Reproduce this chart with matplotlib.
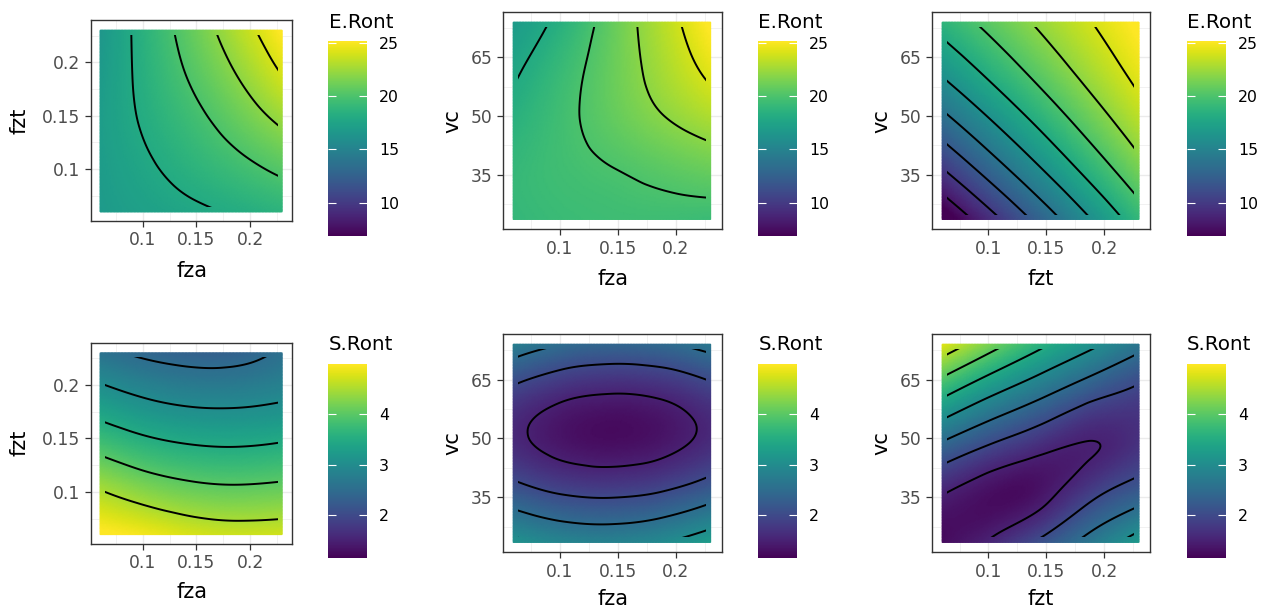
import numpy as np
import matplotlib
matplotlib.use("Agg")
import matplotlib.pyplot as plt
import matplotlib.tri as mtri
from matplotlib.colors import Normalize
from matplotlib.patches import Rectangle
import matplotlib.cm as cm

plt.rcParams['font.family'] = ['DejaVu Sans']

# ---------------- data ----------------
fza_nodes = [0.06, 0.1025, 0.145, 0.1875, 0.23]
fzt_nodes = [0.06, 0.1025, 0.145, 0.1875, 0.23]
vc_nodes = [23.5, 36.125, 48.75, 61.375, 74.0]

# rows: y-axis nodes (bottom -> top), columns: x-axis nodes (left -> right)
e_ront_fza_fzt = [
    [16.80, 17.25, 17.70, 18.15, 18.65],
    [16.90, 17.77, 18.64, 19.51, 20.45],
    [16.98, 18.21, 19.43, 20.80, 22.30],
    [16.81, 18.49, 20.19, 21.99, 24.00],
    [16.55, 18.67, 20.82, 23.04, 25.30],
]
e_ront_fza_vc = [
    [19.00, 19.30, 19.45, 19.45, 19.30],
    [19.05, 19.55, 19.95, 20.46, 20.96],
    [18.51, 19.61, 20.72, 21.82, 22.79],
    [17.76, 19.30, 20.94, 22.66, 24.37],
    [16.80, 18.53, 20.81, 23.11, 25.40],
]
e_ront_fzt_vc = [
    [5.90, 9.33, 12.67, 15.89, 18.98],
    [9.84, 12.90, 15.84, 18.65, 21.34],
    [13.31, 15.97, 18.50, 20.91, 23.19],
    [16.29, 18.54, 20.67, 22.67, 24.55],
    [18.76, 20.61, 22.33, 23.93, 25.40],
]
s_ront_fza_fzt = [
    [5.05, 4.93, 4.77, 4.70, 4.72],
    [4.49, 4.26, 4.11, 4.06, 4.10],
    [3.83, 3.61, 3.49, 3.46, 3.52],
    [3.20, 3.00, 2.89, 2.88, 2.96],
    [2.60, 2.42, 2.33, 2.35, 2.56],
]
s_ront_fza_vc = [
    [3.11, 2.90, 2.85, 2.98, 3.27],
    [2.21, 1.97, 1.91, 2.02, 2.30],
    [1.61, 1.36, 1.28, 1.37, 1.63],
    [1.87, 1.60, 1.50, 1.57, 1.82],
    [2.80, 2.50, 2.40, 2.46, 2.68],
]
s_ront_fzt_vc = [
    [1.25, 1.56, 2.10, 2.67, 3.23],
    [1.53, 1.28, 1.35, 1.85, 2.26],
    [2.46, 2.01, 1.67, 1.49, 1.70],
    [3.60, 3.05, 2.60, 2.16, 1.88],
    [4.82, 4.19, 3.60, 3.12, 2.65],
]

e_levels = [8, 10, 12, 14, 16, 18, 20, 22, 24]
s_levels = [1.5, 2.0, 2.5, 3.0, 3.5, 4.0, 4.5]
e_limits = (6.9, 25.15)
s_limits = (1.14, 4.99)
e_ticks = [10, 15, 20, 25]
s_ticks = [2, 3, 4]

fz_ticks = [0.1, 0.15, 0.2]
fz_ticklabels = ["0.1", "0.15", "0.2"]
fz_minor = [0.075, 0.125, 0.175, 0.225]
vc_ticks = [35, 50, 65]
vc_ticklabels = ["35", "50", "65"]
vc_minor = [27.5, 42.5, 57.5, 72.5]

fz_lim = (0.0515, 0.2395)
vc_lim = (20.98, 76.52)
raster_cells = 20   # raster resolution of the source surface (contours end at cell centres)

# ---------------- figure ----------------
W, H = 1280, 612
fig = plt.figure(figsize=(W / 100, H / 100), dpi=100)


def rect(x0, y0, x1, y1):
    return [x0 / W, 1 - y1 / H, (x1 - x0) / W, (y1 - y0) / H]


GRID = '#EBEBEB'
DARK = '#333333'
TICKC = '#4D4D4D'

panels = [
    dict(xn=fza_nodes, yn=fzt_nodes, z=e_ront_fza_fzt, xl='fza', yl='fzt', yvc=False,
         lim=e_limits, lev=e_levels, ct=e_ticks, title='E.Ront',
         ax=(91, 20, 292.3, 221), cb=(327.5, 41.2, 367, 235.7), tpos=(329, 27.7), xb=276.7, yx=19.5),
    dict(xn=fza_nodes, yn=vc_nodes, z=e_ront_fza_vc, xl='fza', yl='vc', yvc=True,
         lim=e_limits, lev=e_levels, ct=e_ticks, title='E.Ront',
         ax=(503.3, 12.3, 721.7, 229.3), cb=(757.5, 41.2, 797, 235.7), tpos=(758.3, 27.7), xb=285, yx=452),
    dict(xn=fzt_nodes, yn=vc_nodes, z=e_ront_fzt_vc, xl='fzt', yl='vc', yvc=True,
         lim=e_limits, lev=e_levels, ct=e_ticks, title='E.Ront',
         ax=(932.3, 12.3, 1150, 229.3), cb=(1186.5, 41.2, 1226, 235.7), tpos=(1187, 27.7), xb=285, yx=881),
    dict(xn=fza_nodes, yn=fzt_nodes, z=s_ront_fza_fzt, xl='fza', yl='fzt', yvc=False,
         lim=s_limits, lev=s_levels, ct=s_ticks, title='S.Ront',
         ax=(91, 342.7, 292.3, 543.7), cb=(327.5, 364.3, 367, 558.3), tpos=(329, 350), xb=598.5, yx=19.5),
    dict(xn=fza_nodes, yn=vc_nodes, z=s_ront_fza_vc, xl='fza', yl='vc', yvc=True,
         lim=s_limits, lev=s_levels, ct=s_ticks, title='S.Ront',
         ax=(503.3, 334.3, 721.7, 552.3), cb=(757.5, 364.3, 797, 558.3), tpos=(758.3, 350), xb=605, yx=452),
    dict(xn=fzt_nodes, yn=vc_nodes, z=s_ront_fzt_vc, xl='fzt', yl='vc', yvc=True,
         lim=s_limits, lev=s_levels, ct=s_ticks, title='S.Ront',
         ax=(932.3, 334.3, 1150, 552.3), cb=(1186.5, 364.3, 1226, 558.3), tpos=(1187, 350), xb=605, yx=881),
]


def grid_triangles(nx, ny):
    tris = []
    for j in range(ny - 1):
        for i in range(nx - 1):
            a = j * nx + i
            b = a + 1
            c = a + nx
            d = c + 1
            tris.append([a, b, d])
            tris.append([a, d, c])
    return np.array(tris)


for p in panels:
    xn = np.asarray(p['xn'], float)
    yn = np.asarray(p['yn'], float)
    Z = np.asarray(p['z'], float)
    X, Y = np.meshgrid(xn, yn)
    xs = (X - xn.min()) / (xn.max() - xn.min())
    ys = (Y - yn.min()) / (yn.max() - yn.min())
    tri = mtri.Triangulation(xs.ravel(), ys.ravel(), grid_triangles(len(xn), len(yn)))
    refiner = mtri.UniformTriRefiner(tri)
    tri_r, z_r = refiner.refine_field(Z.ravel(), subdiv=5)
    tri_d = mtri.Triangulation(xn.min() + tri_r.x * (xn.max() - xn.min()),
                               yn.min() + tri_r.y * (yn.max() - yn.min()),
                               tri_r.triangles)

    norm = Normalize(vmin=p['lim'][0], vmax=p['lim'][1])
    ax = fig.add_axes(rect(*p['ax']))
    ax.set_axisbelow(True)
    ax.tripcolor(tri_d, z_r, shading='gouraud', cmap='viridis', norm=norm, zorder=1)
    cs = ax.tricontour(tri_d, z_r, levels=p['lev'], colors='black', linewidths=1.4, zorder=2)
    dx = (xn.max() - xn.min()) / (2 * raster_cells)
    dy = (yn.max() - yn.min()) / (2 * raster_cells)
    clip = Rectangle((xn.min() + dx, yn.min() + dy), xn.max() - xn.min() - 2 * dx,
                     yn.max() - yn.min() - 2 * dy, transform=ax.transData)
    cs.set_clip_path(clip)

    ax.set_xlim(*fz_lim)
    ax.set_xticks(fz_ticks)
    ax.set_xticklabels(fz_ticklabels)
    ax.set_xticks(fz_minor, minor=True)
    if p['yvc']:
        ax.set_ylim(*vc_lim)
        ax.set_yticks(vc_ticks)
        ax.set_yticklabels(vc_ticklabels)
        ax.set_yticks(vc_minor, minor=True)
    else:
        ax.set_ylim(*fz_lim)
        ax.set_yticks(fz_ticks)
        ax.set_yticklabels(fz_ticklabels)
        ax.set_yticks(fz_minor, minor=True)
    ax.grid(which='major', color=GRID, linewidth=1.0)
    ax.grid(which='minor', color=GRID, linewidth=0.5)
    ax.tick_params(which='minor', length=0)
    ax.tick_params(axis='x', which='major', direction='out', length=4.3, width=0.9, color=DARK,
                   labelsize=12.3, labelcolor=TICKC, pad=3.2)
    ax.tick_params(axis='y', which='major', direction='out', length=4.3, width=0.9, color=DARK,
                   labelsize=12.3, labelcolor=TICKC, pad=3.4)
    for s in ax.spines.values():
        s.set_color(DARK)
        s.set_linewidth(1.0)

    # axis titles
    x0, y0, x1, y1 = p['ax']
    fig.text(((x0 + x1) / 2) / W, 1 - p['xb'] / H, p['xl'], ha='center', va='baseline',
             fontsize=15, color='black')
    fig.text(p['yx'] / W, 1 - ((y0 + y1) / 2) / H, p['yl'], ha='center', va='center',
             rotation=90, fontsize=15, color='black')

    # colour bar legend
    cax = fig.add_axes(rect(*p['cb']))
    sm = cm.ScalarMappable(norm=norm, cmap='viridis')
    cbar = fig.colorbar(sm, cax=cax, ticks=p['ct'])
    cbar.outline.set_visible(False)
    cbar.ax.minorticks_off()
    cax.yaxis.set_ticks_position('both')
    cax.tick_params(axis='y', direction='in', color='white', length=5.5, width=0.8,
                    left=True, right=True, labelleft=False, labelright=True,
                    labelsize=11.3, labelcolor='black', pad=8.8)
    cax.set_yticklabels([str(t) for t in p['ct']])
    fig.text(p['tpos'][0] / W, 1 - p['tpos'][1] / H, p['title'], ha='left', va='baseline',
             fontsize=14.3, color='black')

fig.savefig('out.png', dpi=100, facecolor='white')
